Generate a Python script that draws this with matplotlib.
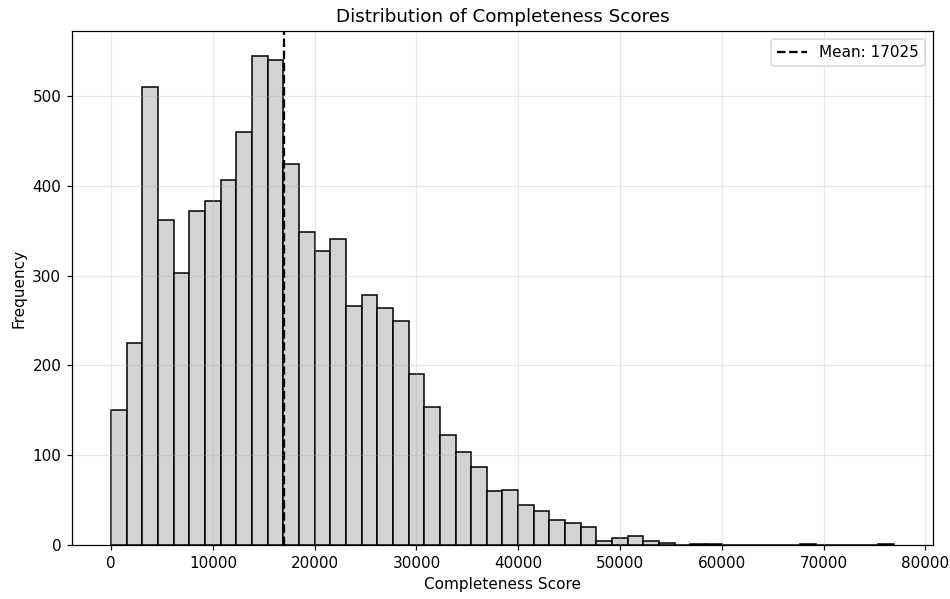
import numpy as np
import matplotlib.pyplot as plt


# histogram counts (50 equal bins from 0 to ~76900)
counts = [150, 225, 510, 362, 303, 372, 383, 407, 460, 545,
          540, 424, 349, 328, 341, 266, 279, 264, 249, 191,
          154, 123, 104, 87, 60, 61, 45, 38, 28, 25,
          20, 5, 8, 10, 5, 2, 0, 1, 1, 0,
          0, 0, 0, 0, 1, 0, 0, 0, 0, 1]
score_min, score_max = 0, 76900
mean_score = 17025


if __name__ == "__main__":
  edges = np.linspace(score_min, score_max, len(counts) + 1)
  centers = (edges[:-1] + edges[1:]) / 2

  fig, ax = plt.subplots(figsize=(951 / 110, 599 / 110), dpi=110)
  ax.hist(centers, bins=edges, weights=counts, color='lightgray', edgecolor='black')
  ax.axvline(mean_score, color='black', linestyle='--', linewidth=1.5,
             label='Mean: {}'.format(mean_score))

  ax.set_title('Distribution of Completeness Scores')
  ax.set_xlabel('Completeness Score')
  ax.set_ylabel('Frequency')
  ax.legend(loc='upper right')
  ax.grid(True, alpha=0.3)

  fig.subplots_adjust(left=0.0757, right=0.981, top=0.948, bottom=0.09)
  fig.savefig('out.png')
